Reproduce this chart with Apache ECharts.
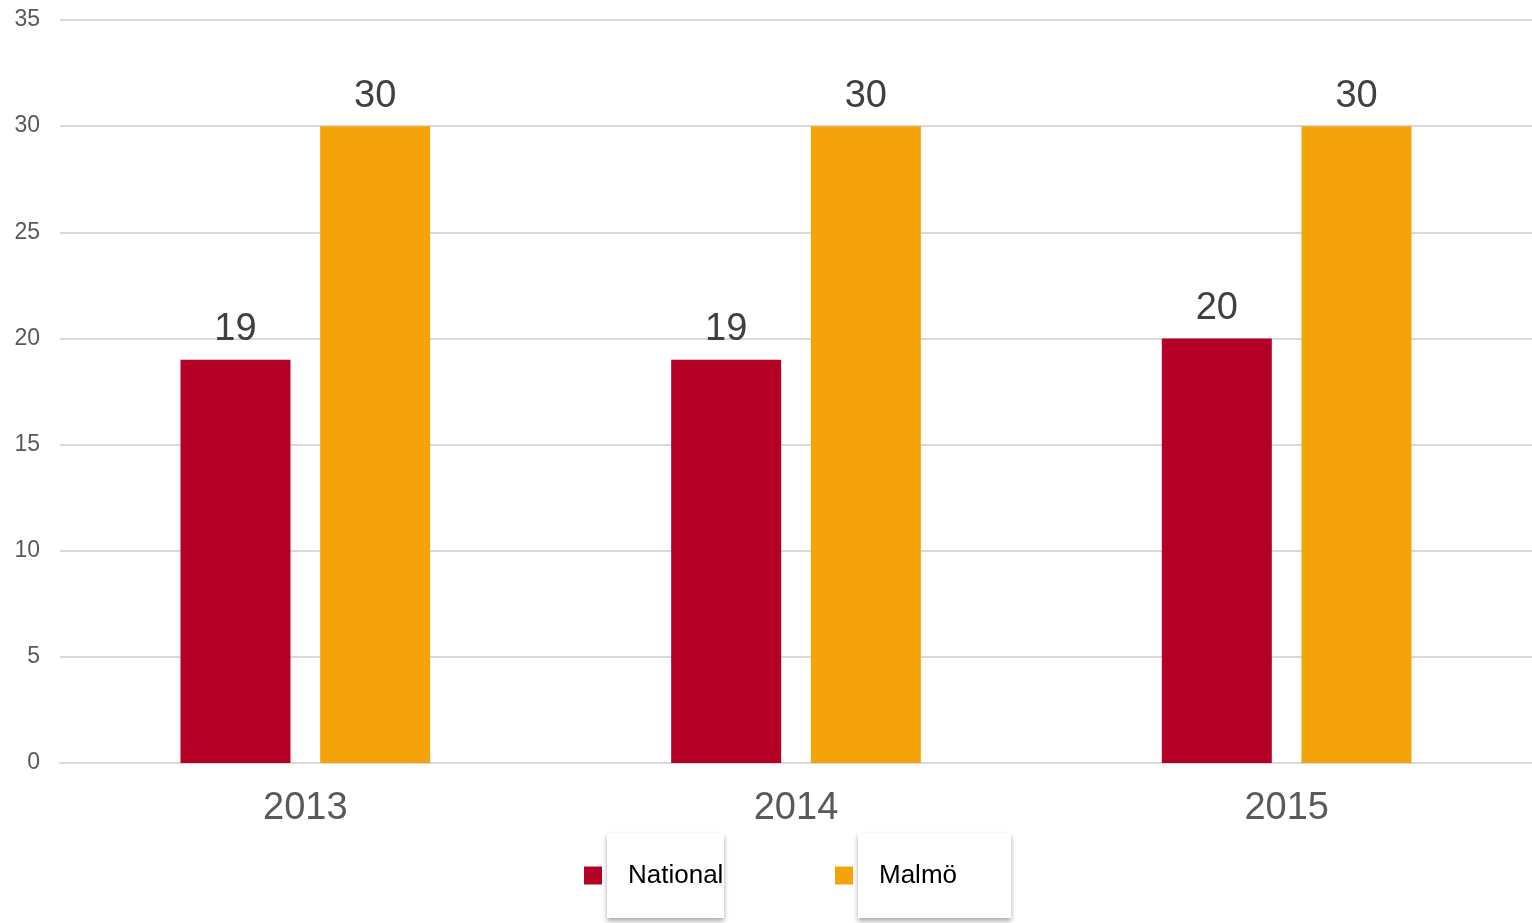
<!DOCTYPE html>
<html>
<head>
<meta charset="utf-8">
<script src="https://cdn.jsdelivr.net/npm/echarts@6/dist/echarts.min.js"></script>
<style>html,body{margin:0;padding:0;background:#fff}#c{width:1532px;height:923px}</style>
</head>
<body>
<div id="c"></div>
<script>
var categories = ['2013', '2014', '2015'];
var national = [19, 19, 20];
var malmo = [30, 30, 30];
var yTicks = { min: 0, max: 35, interval: 5 };

var chart = echarts.init(document.getElementById('c'));
var boxStyle = {
  fontFamily: 'Liberation Sans, Arial, sans-serif',
  fontSize: 26,
  color: '#000',
  backgroundColor: '#fff',
  lineHeight: 26,
  shadowColor: 'rgba(0,0,0,0.35)',
  shadowBlur: 5,
  shadowOffsetY: 3,
  overflow: 'none'
};
chart.setOption({
  animation: false,
  grid: { left: 60, right: 0, top: 20, bottom: 160 },
  legend: {
    left: 584,
    top: 833,
    padding: 0,
    itemWidth: 18,
    itemHeight: 18,
    itemGap: 111,
    icon: 'rect',
    data: [
      { name: 'National', textStyle: Object.assign({}, boxStyle, { width: 96, padding: [30, 0, 29, 21] }) },
      { name: 'Malmö', textStyle: Object.assign({}, boxStyle, { width: 132, padding: [30, 0, 29, 21] }) }
    ]
  },
  xAxis: {
    type: 'category',
    data: categories,
    axisTick: { show: false },
    axisLine: { lineStyle: { color: '#d9d9d9', width: 2 } },
    axisLabel: { fontFamily: 'Liberation Sans, Arial, sans-serif', fontSize: 38, color: '#595959', margin: 27 }
  },
  yAxis: {
    type: 'value',
    min: yTicks.min, max: yTicks.max, interval: yTicks.interval,
    axisLine: { show: false },
    axisTick: { show: false },
    splitLine: { lineStyle: { color: '#d9d9d9', width: 2 } },
    axisLabel: { fontFamily: 'Liberation Sans, Arial, sans-serif', fontSize: 23, color: '#595959', margin: 20 }
  },
  series: [
    {
      name: 'National', type: 'bar', data: national,
      barWidth: 110, barGap: '27%',
      itemStyle: { color: '#B30024' },
      label: { show: true, position: 'top', distance: 11, fontFamily: 'Liberation Sans, Arial, sans-serif', fontSize: 38, color: '#404040' }
    },
    {
      name: 'Malmö', type: 'bar', data: malmo,
      barWidth: 110, barGap: '27%',
      itemStyle: { color: '#F5A30A' },
      label: { show: true, position: 'top', distance: 11, fontFamily: 'Liberation Sans, Arial, sans-serif', fontSize: 38, color: '#404040' }
    }
  ]
});
</script>
</body>
</html>
